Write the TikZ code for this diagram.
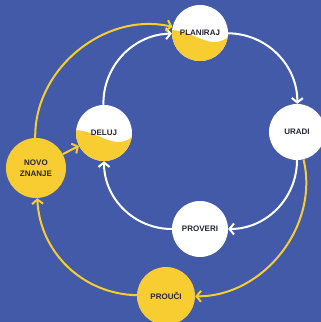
\documentclass[tikz,border=0pt]{standalone}
\usepackage{fontspec}
\setsansfont{Liberation Sans}
\usetikzlibrary{calc}
\usetikzlibrary{arrows.meta}

\definecolor{bgblue}{RGB}{66,90,168}
\definecolor{sunyellow}{RGB}{248,205,50}
\definecolor{labeltext}{RGB}{38,38,56}

\tikzset{
  stage/.style={circle, fill=white, minimum size=56pt, inner sep=0pt,
    font=\sffamily\bfseries\fontsize{8}{10.5}\selectfont, text=labeltext, align=center},
  stageyellow/.style={stage, fill=sunyellow, minimum size=58pt},
  stagehalf/.style={stage, path picture={
    \fill[sunyellow] ($(path picture bounding box.center)+(-31pt,3pt)$)
      .. controls +(20pt,0pt) and +(-13pt,0pt) .. ++(45pt,-12pt)
      .. controls +(9pt,0pt) and +(-3pt,-5pt) .. ++(17pt,9pt)
      -- ++(0pt,-32pt) -- ++(-62pt,0pt) -- cycle;}},
  whitearc/.style={white, line width=2pt, -{Straight Barb[length=4.5pt,width=11pt]}},
  yellowarc/.style={sunyellow, line width=2pt, -{Straight Barb[length=4.5pt,width=11pt]}}
}

\begin{document}
\begin{tikzpicture}[x=1pt, y=-1pt]
\fill[bgblue] (0,0) rectangle (321,322);
\useasboundingbox (0,0) rectangle (321,322);

% inner cycle
\node[stagehalf] (planiraj) at (200,33) {PLANIRAJ};
\node[stage] (uradi) at (297,132) {URADI};
\node[stage] (proveri) at (200,229) {PROVERI};
\node[stagehalf] (deluj) at (104,133) {DELUJ};
% outer nodes
\node[stageyellow, minimum size=60pt] (novo) at (36,168) {NOVO\\ZNANJE};
\node[stageyellow] (prouci) at (166,296) {PROU\v{C}I};

\foreach \a/\b in {planiraj/uradi, uradi/proveri, proveri/deluj, deluj/planiraj}
  \draw[whitearc] (\a) to[bend left=45] (\b);

\draw[yellowarc] (novo) to[bend left=52] (planiraj);
\draw[yellowarc] (uradi) to[bend left=52] (prouci);
\draw[yellowarc] (prouci) to[bend left=43] (novo);
\draw[yellowarc] (novo) -- (deluj);
\end{tikzpicture}
\end{document}
